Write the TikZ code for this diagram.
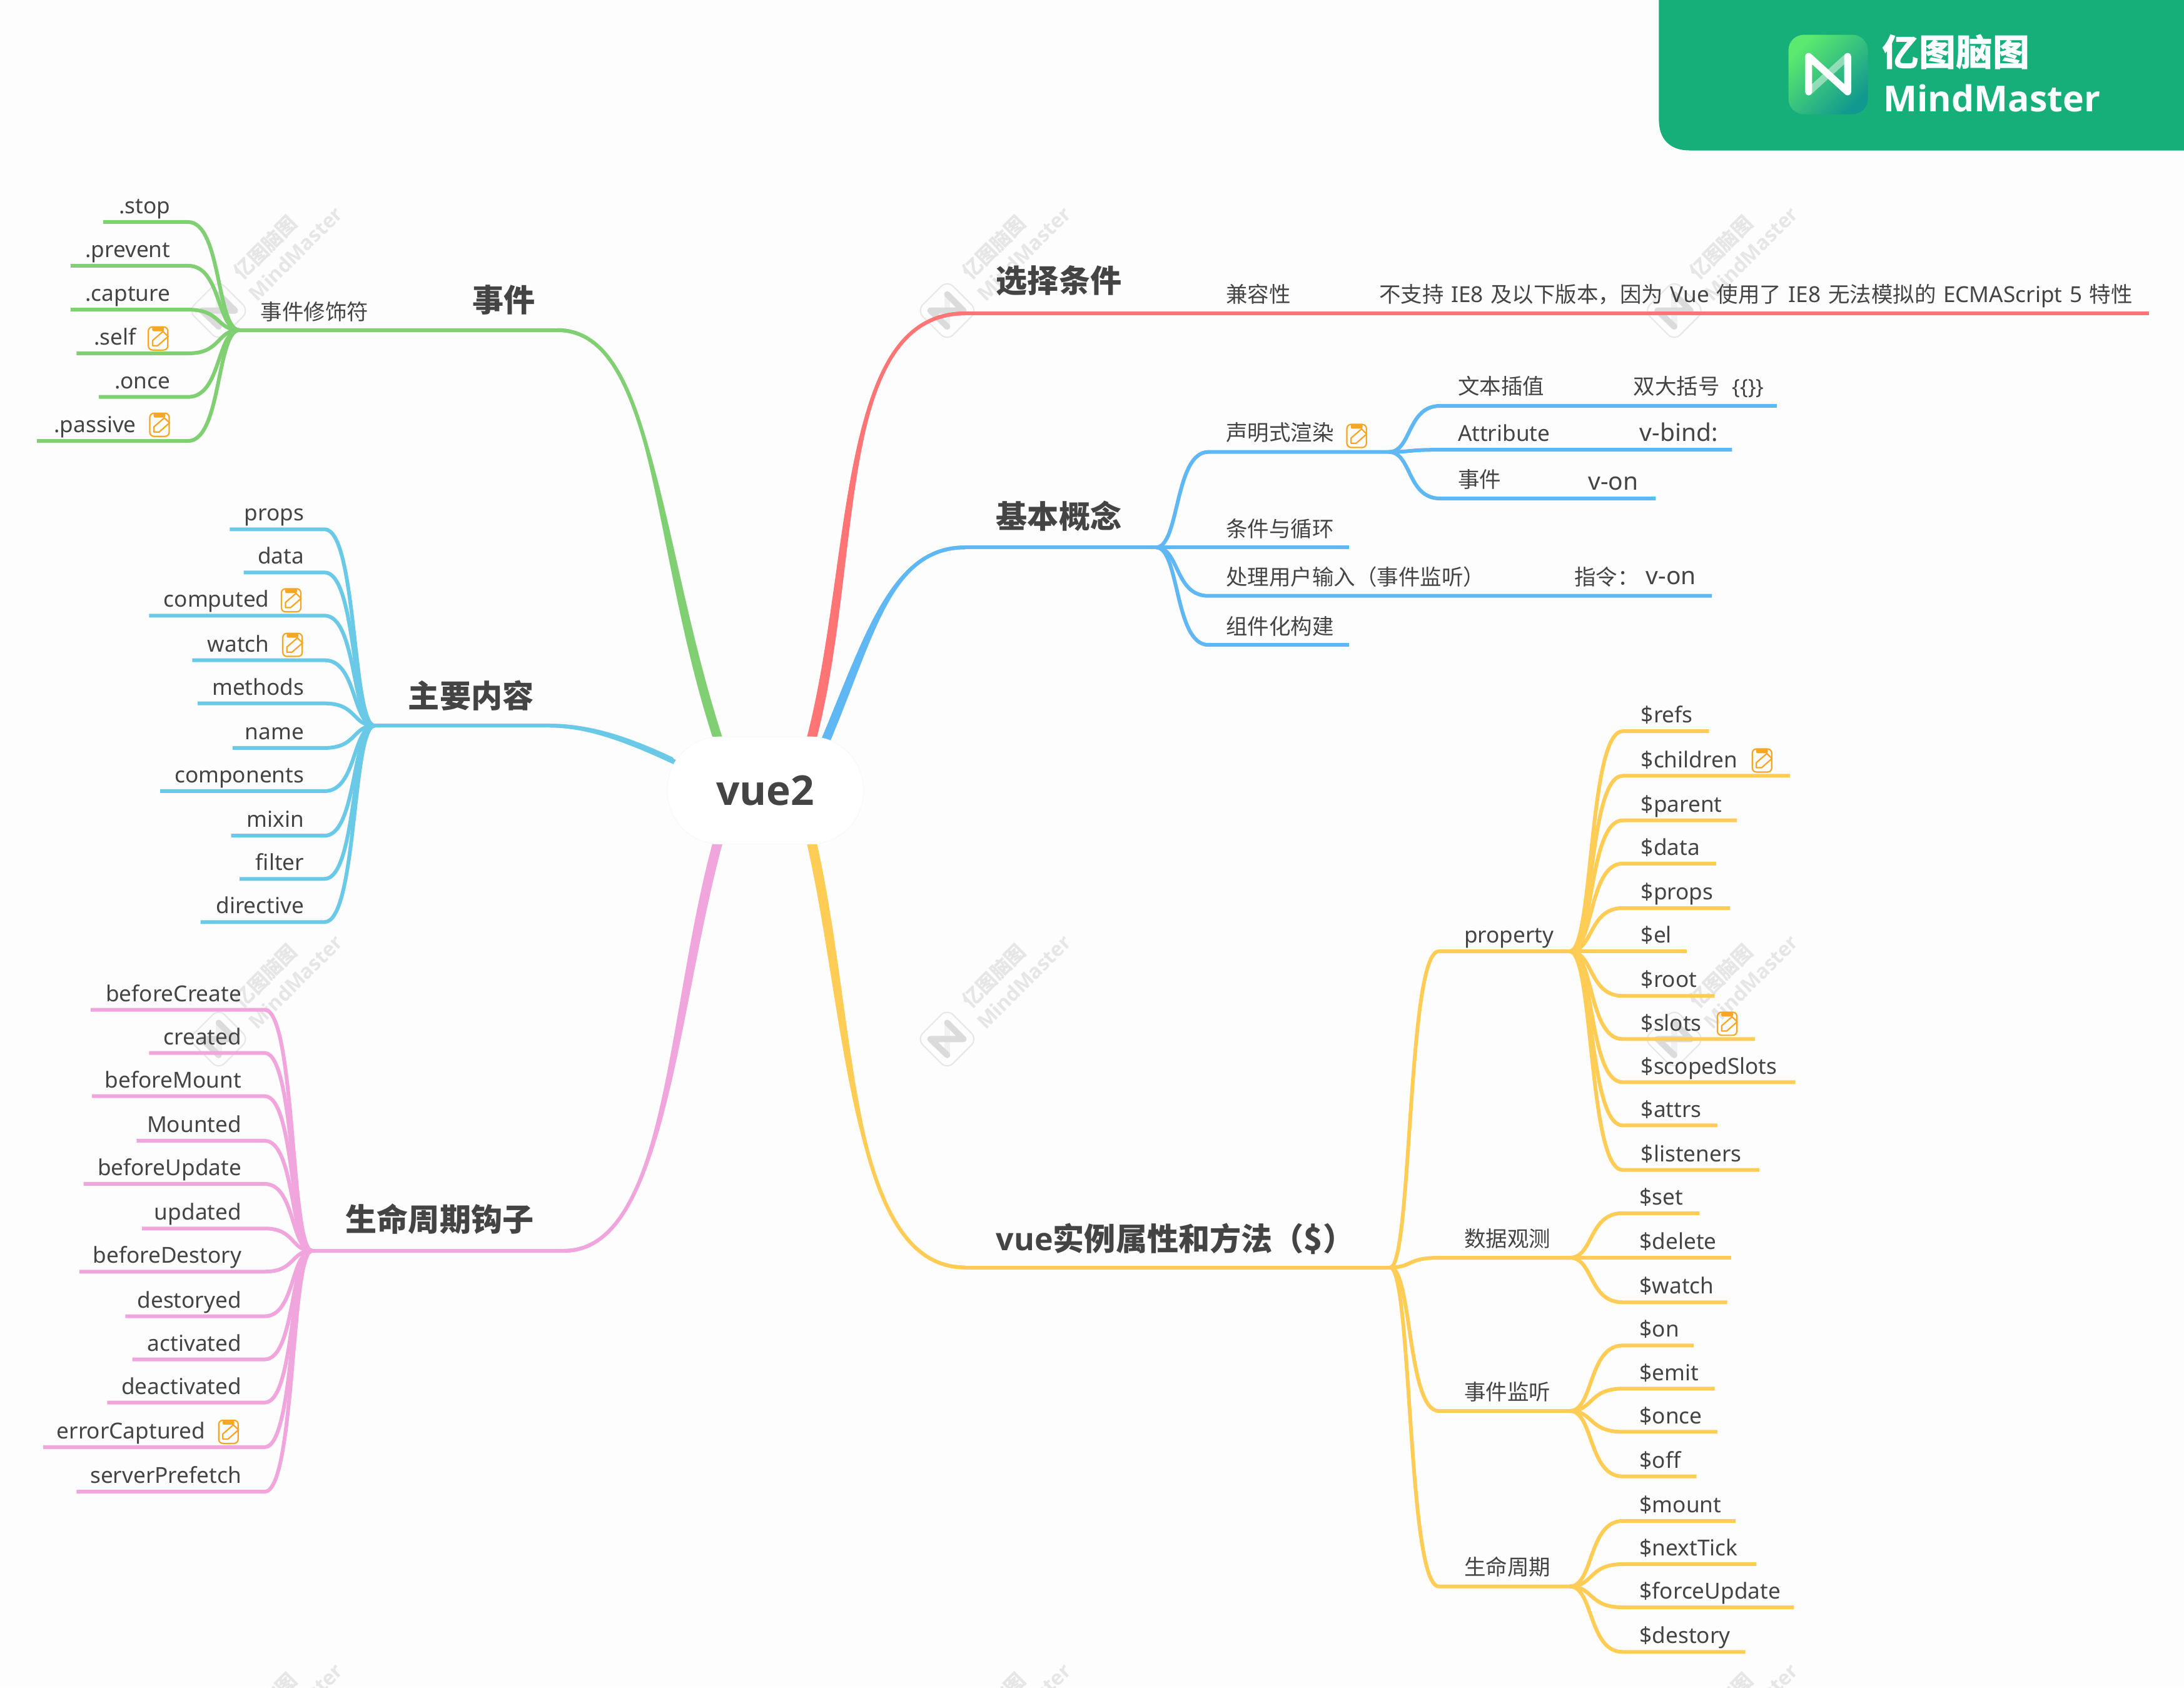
\documentclass[tikz,border=0pt]{standalone}
\usepackage{fontspec}
\setmainfont{Noto Sans}
\newfontfamily\cjk[Scale=0.98]{Noto Sans CJK SC}
\newfontfamily\cjkb[Scale=1.0]{Noto Sans CJK SC}
\newfontfamily\latb{Open Sans}
\usetikzlibrary{calc}
\newcommand\zh[1]{{\cjk #1}}
\newcommand\zb[1]{{\cjkb\bfseries #1}}
\definecolor{bgc}{HTML}{FDFDFD}
\definecolor{tc}{HTML}{444444}
\definecolor{gr}{HTML}{80CF73}
\definecolor{rd}{HTML}{FF7575}
\definecolor{bl}{HTML}{5FB7F3}
\definecolor{sk}{HTML}{6BC9E8}
\definecolor{ye}{HTML}{FFCC55}
\definecolor{pk}{HTML}{F0A5DC}
\definecolor{hdr}{HTML}{16AE79}
\definecolor{wmc}{HTML}{E6E6E6}
\definecolor{orn}{HTML}{F5A623}
\definecolor{lg1}{HTML}{5BE96F}
\definecolor{lg2}{HTML}{12998F}
\tikzset{
  x=1pt,y=-1pt,
  lab/.style={inner sep=0pt,text=tc,font=\fontsize{15.8}{19}\selectfont},
  labw/.style={lab,font=\fontsize{17.5}{20}\selectfont},
  mainlab/.style={inner sep=0pt,text=tc,font=\latb\bfseries\fontsize{22.5}{26}\selectfont,anchor=base west},
  rootbox/.style={fill=white,draw=white!97!black,line width=.4pt,rounded corners=38pt,minimum width=141pt,minimum height=77pt,inner sep=0pt,text=tc,font=\latb\bfseries\fontsize{29.5}{32}\selectfont},
  wmtext/.style={inner sep=0pt,text=wmc,font=\latb\bfseries\fontsize{14.5}{18}\selectfont,rotate=45},
  logotext/.style={inner sep=0pt,text=white,anchor=base west,font=\latb\bfseries\fontsize{26.5}{30}\selectfont},
}
\newcommand\bcol{gr}
% connector: hub -> bend -> end
\newcommand\conn[5]{%
  \coordinate (#2b) at (#3,#5);\coordinate (#2e) at (#4,#5);
  \draw[line width=2.7pt,draw=\bcol] (#1) .. controls ($(#1)!.45!(#2b |- #1)$) and ($(#2b)!.65!(#1 |- #2b)$) .. (#2b) -- (#2e);}
% leaf: hub,id,bend,end,y,textx,anchor,text
\newcommand\leaf[8]{\conn{#1}{#2}{#3}{#4}{#5}\node[lab,anchor=base #7] (#2) at (#6,#5-6.0) {#8};}
% tapered main branch: colour, from, to, c1 offset, c2 offset, half-width
\newcommand\taper[6]{%
  \fill[#1] ($(#2)+(#6)$) .. controls ($(#2)+(#4)+(#6)$) and ($(#3)+(#5)+(0,1.35)$) .. ($(#3)+(0,1.35)$)
   -- ($(#3)+(0,-1.35)$) .. controls ($(#3)+(#5)+(0,-1.35)$) and ($(#2)+(#4)-(#6)$) .. ($(#2)-(#6)$) -- cycle;
  \draw[#1,line width=2.7pt] (#2) .. controls ($(#2)+(#4)$) and ($(#3)+(#5)$) .. (#3);}
\newcommand\noteic[2]{\begin{scope}[shift={(#1,#2)}]
  \fill[orn,rounded corners=1pt] (-4.2,-8.3) rectangle (4.2,-5.2);
  \draw[orn,line width=1pt,rounded corners=3pt] (-7,-8.3) rectangle (7,8.3);
  \filldraw[fill=bgc,draw=orn,line width=1pt,line join=round] (-4,5.2) -- (-4,1.5) -- (3.5,-5) -- (7.2,-1.4) -- (-.3,5.2) -- cycle;
\end{scope}}
\newcommand\wmark[3]{\begin{scope}[shift={(#1,#2)}]
  \draw[wmc,line width=.9pt,rounded corners=6pt] (-21.7,0) -- (0,-21.7) -- (21.7,0) -- (0,21.7) -- cycle;
  \draw[wmc!50!bgc,line width=4.4pt,line cap=round] (0,-11.7) -- (0,11.5);
  \draw[wmc!95!black,line width=4.4pt,line cap=round,line join=round] (0,-11.7) -- (11.7,0) -- (-12,0) -- (0,11.5);
  \node[wmtext] (wa#3) at (33.4,-45.4) {\zh{亿图脑图}};
  \node[wmtext] (wb#3) at (55,-41) {MindMaster};
\end{scope}}
\begin{document}
\begin{tikzpicture}
\useasboundingbox (0,0) rectangle (1568,1211.5);
\fill[bgc] (0,0) rectangle (1568,1211.5);
% watermarks
\wmark{157}{223}{1}\wmark{680}{223}{2}\wmark{1202}{223}{3}
\wmark{157}{746}{4}\wmark{680}{746}{5}\wmark{1202}{746}{6}
\wmark{157}{1269}{7}\wmark{680}{1269}{8}\wmark{1202}{1269}{9}
% header
\fill[hdr] (1191,0) -- (1191,86) .. controls (1191,100) and (1199,108) .. (1213,108) -- (1568,108) -- (1568,0) -- cycle;
\shade[left color=lg1,right color=lg2,shading angle=45,rounded corners=11pt] (1284,25) rectangle (1341,82);
\draw[white,opacity=.45,line width=5pt,line cap=round] (1326.5,40.5) -- (1298.5,66);
\draw[white,line width=5pt,line cap=round,line join=round] (1298.5,66) -- (1298.5,40.5) -- (1326.5,66) -- (1326.5,40.5);
\node[logotext] (logozh) at (1351,47.5) {\zb{亿图脑图}};
\node[logotext,font=\latb\bfseries\fontsize{25.7}{30}\selectfont] (logoen) at (1352,80) {MindMaster};
% anchor points
\coordinate (g0) at (515,529);\coordinate (g1) at (400,237);\coordinate (ghub) at (172,237);
\coordinate (r0) at (583,529);\coordinate (r1) at (693,225);\coordinate (r2) at (1543,225);
\coordinate (b0) at (593,531);\coordinate (b1) at (693,393);\coordinate (bhub) at (830,393);
\coordinate (s0) at (485,547);\coordinate (s1) at (395,521);\coordinate (shub) at (269,521);
\coordinate (y0) at (583,606);\coordinate (y1) at (693,910);\coordinate (yhub) at (998,910);
\coordinate (p0) at (515,606);\coordinate (p1) at (405,898);\coordinate (phub) at (224,898);
% main branches
\taper{gr}{g0}{g1}{-45,-139}{70,0}{3.5,0}
\taper{rd}{r0}{r1}{33,-129}{-93,0}{3.6,0}
\taper{bl}{b0}{b1}{32,-76}{-53,0}{3.2,.8}
\taper{sk}{s0}{s1}{-30,-14}{30,0}{2,3.3}
\taper{ye}{y0}{y1}{29,129}{-83,0}{3.6,0}
\taper{pk}{p0}{p1}{-33,122}{73,0}{3.6,0}
\draw[line width=2.7pt,gr] (g1) -- (ghub);
\draw[line width=2.7pt,rd] (r1) -- (r2);
\draw[line width=2.7pt,bl] (b1) -- (bhub);
\draw[line width=2.7pt,sk] (s1) -- (shub);
\draw[line width=2.7pt,ye] (y1) -- (yhub);
\draw[line width=2.7pt,pk] (p1) -- (phub);
\node[rootbox] (root) at (549.5,567.5) {\raisebox{-1.5pt}{vue2}};
% main labels
\node[mainlab] (m1) at (339,224) {\zb{事件}};
\node[mainlab] (m2) at (293,508) {\zb{主要内容}};
\node[mainlab] (m3) at (248,884) {\zb{生命周期钩子}};
\node[mainlab] (m4) at (715,210) {\zb{选择条件}};
\node[mainlab] (m5) at (715,379) {\zb{基本概念}};
\node[mainlab] (m6) at (715,898) {vue\zb{实例属性和方法（\textbf{\$}）}};
% green
\renewcommand\bcol{gr}
\node[lab,anchor=base west] (gl) at (187,229.5) {\zh{事件修饰符}};
\leaf{ghub}{gl1}{135}{74}{159.4}{122.5}{east}{.stop}
\leaf{ghub}{gl2}{135}{50.8}{190.8}{122.5}{east}{.prevent}
\leaf{ghub}{gl3}{135}{50.8}{222.3}{122.5}{east}{.capture}
\leaf{ghub}{gl4}{135}{55}{253.7}{98}{east}{.self}
\leaf{ghub}{gl5}{135}{71}{285}{122.5}{east}{.once}
\leaf{ghub}{gl6}{135}{26.5}{316.6}{98}{east}{.passive}
\noteic{113.5}{243}\noteic{114.5}{305}
% sky
\renewcommand\bcol{sk}
\leaf{shub}{sl1}{233}{165}{380}{218.5}{east}{props}
\leaf{shub}{sl2}{233}{175}{411}{218.5}{east}{data}
\leaf{shub}{sl3}{233}{107}{442}{193.5}{east}{computed}
\leaf{shub}{sl4}{233}{138}{474}{193.5}{east}{watch}
\leaf{shub}{sl5}{233}{142}{505}{218.5}{east}{methods}
\leaf{shub}{sl6}{233}{167}{537}{218.5}{east}{name}
\leaf{shub}{sl7}{233}{115}{568}{218.5}{east}{components}
\leaf{shub}{sl8}{233}{166}{600}{218.5}{east}{mixin}
\leaf{shub}{sl9}{233}{172}{631}{218.5}{east}{filter}
\leaf{shub}{sl10}{233}{144}{662}{218.5}{east}{directive}
\noteic{209}{431}\noteic{210}{463}
% pink
\renewcommand\bcol{pk}
\leaf{phub}{pl1}{190}{65}{725}{173.5}{east}{beforeCreate}
\leaf{phub}{pl2}{190}{107}{756}{173.5}{east}{created}
\leaf{phub}{pl3}{190}{66}{787}{173.5}{east}{beforeMount}
\leaf{phub}{pl4}{190}{98}{819}{173.5}{east}{Mounted}
\leaf{phub}{pl5}{190}{60}{850}{173.5}{east}{beforeUpdate}
\leaf{phub}{pl6}{190}{102}{882}{173.5}{east}{updated}
\leaf{phub}{pl7}{190}{57}{913}{173.5}{east}{beforeDestory}
\leaf{phub}{pl8}{190}{90}{945}{173.5}{east}{destoryed}
\leaf{phub}{pl9}{190}{95}{976}{173.5}{east}{activated}
\leaf{phub}{pl10}{190}{77}{1007}{173.5}{east}{deactivated}
\leaf{phub}{pl11}{190}{31}{1039}{147.5}{east}{errorCaptured}
\leaf{phub}{pl12}{190}{55}{1071}{173.5}{east}{serverPrefetch}
\noteic{164}{1028}
% red texts
\node[lab,anchor=base west] (rt1) at (880,217) {\zh{兼容性}};
\node[lab,anchor=base west] (rt2) at (990,217) {\spaceskip=5.2pt \zh{不支持} IE8 \zh{及以下版本，因为} Vue \zh{使用了} IE8 \zh{无法模拟的} ECMAScript 5 \zh{特性}};
% blue
\renewcommand\bcol{bl}
\conn{bhub}{bl1}{867.5}{997}{324.5}
\conn{bhub}{bl2}{867.5}{968.6}{393}
\conn{bhub}{bl3}{867.5}{1229}{427.8}
\conn{bhub}{bl4}{867.5}{968.6}{463}
\coordinate (bhub2) at (997,324.5);
\conn{bhub2}{bm1}{1034}{1275.6}{291.4}
\conn{bhub2}{bm2}{1034}{1243.5}{322.9}
\conn{bhub2}{bm3}{1034}{1188.7}{357.9}
\node[lab,anchor=base west] (bt1) at (880,316.5) {\zh{声明式渲染}};
\noteic{974}{313}
\node[lab,anchor=base west] (bt2) at (880,385.5) {\zh{条件与循环}};
\node[lab,anchor=base west] (bt3) at (880,420) {\zh{处理用户输入（事件监听）}};
\node[lab,anchor=base west] (bt4) at (880,455.5) {\zh{组件化构建}};
\node[lab,anchor=base west] (bt5) at (1046.5,283) {\zh{文本插值}};
\node[lab,anchor=base west] (bt6) at (1172.5,283) {\zh{双大括号}\hspace{9pt}{\fontsize{15}{17}\selectfont\{\{\}\}}};
\node[lab,anchor=base west] (bt7) at (1046.5,316.8) {Attribute};
\node[labw,anchor=base west] (bt8) at (1177,316.8) {v-bind:};
\node[lab,anchor=base west] (bt9) at (1046.5,350) {\zh{事件}};
\node[labw,anchor=base west] (bt10) at (1140,352) {v-on};
\node[lab,anchor=base west] (bt11) at (1130,420) {\zh{指令：}};
\node[labw,anchor=base west] (bt12) at (1181.6,419.5) {v-on};
% yellow
\renewcommand\bcol{ye}
\coordinate (yah) at (1127,683);\coordinate (ybh) at (1127,903);\coordinate (ych) at (1127,1013);\coordinate (ydh) at (1127,1139);
\conn{yhub}{ya}{1033}{1128}{683}
\conn{yhub}{yb}{1033}{1128}{903}
\conn{yhub}{yc}{1033}{1128}{1013}
\conn{yhub}{yd}{1033}{1128}{1139}
\node[lab,anchor=base west] (yt1) at (1051,677) {property};
\node[lab,anchor=base west] (yt2) at (1051,895) {\zh{数据观测}};
\node[lab,anchor=base west] (yt3) at (1051,1005) {\zh{事件监听}};
\node[lab,anchor=base west] (yt4) at (1051,1131) {\zh{生命周期}};
\leaf{yah}{ya1}{1165}{1227}{525}{1178}{west}{\$refs}
\leaf{yah}{ya2}{1165}{1285}{557}{1178}{west}{\$children}
\leaf{yah}{ya3}{1165}{1247}{589}{1178}{west}{\$parent}
\leaf{yah}{ya4}{1165}{1232}{620}{1178}{west}{\$data}
\leaf{yah}{ya5}{1165}{1242}{652}{1178}{west}{\$props}
\leaf{yah}{ya6}{1165}{1211}{683}{1178}{west}{\$el}
\leaf{yah}{ya7}{1165}{1231}{715}{1178}{west}{\$root}
\leaf{yah}{ya8}{1165}{1260}{746}{1178}{west}{\$slots}
\leaf{yah}{ya9}{1165}{1289}{777}{1178}{west}{\$scopedSlots}
\leaf{yah}{ya10}{1165}{1233}{808}{1178}{west}{\$attrs}
\leaf{yah}{ya11}{1165}{1263}{840}{1178}{west}{\$listeners}
\noteic{1265}{546}\noteic{1240}{735}
\leaf{ybh}{yb1}{1165}{1220}{871}{1177}{west}{\$set}
\leaf{ybh}{yb2}{1165}{1243}{903}{1177}{west}{\$delete}
\leaf{ybh}{yb3}{1165}{1240}{935}{1177}{west}{\$watch}
\leaf{ych}{yc1}{1165}{1216}{966}{1177}{west}{\$on}
\leaf{ych}{yc2}{1165}{1231}{997}{1177}{west}{\$emit}
\leaf{ych}{yc3}{1165}{1233}{1028}{1177}{west}{\$once}
\leaf{ych}{yc4}{1165}{1218}{1060}{1177}{west}{\$off}
\leaf{ydh}{yd1}{1165}{1246}{1092}{1177}{west}{\$mount}
\leaf{ydh}{yd2}{1165}{1261}{1123}{1177}{west}{\$nextTick}
\leaf{ydh}{yd3}{1165}{1288}{1154}{1177}{west}{\$forceUpdate}
\leaf{ydh}{yd4}{1165}{1253}{1186}{1177}{west}{\$destory}
\end{tikzpicture}
\end{document}
